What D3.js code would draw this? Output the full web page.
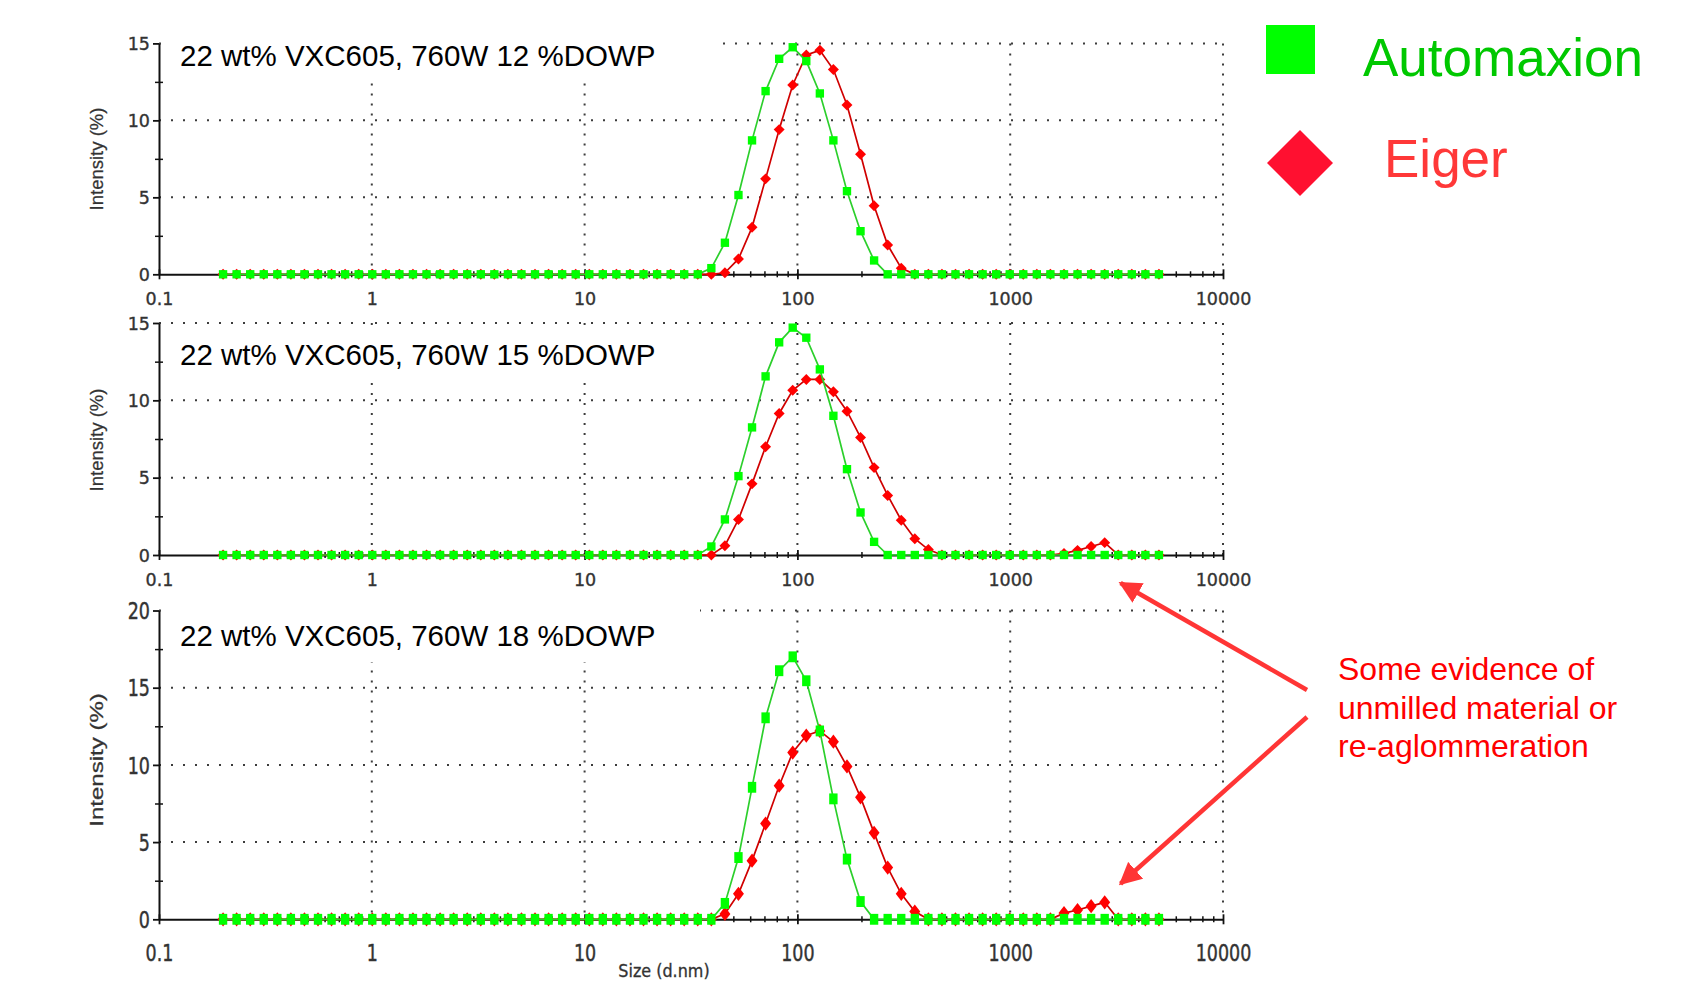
<!DOCTYPE html>
<html>
<head>
<meta charset="utf-8">
<script src="https://cdn.jsdelivr.net/npm/d3@7"></script>
<style>
  html, body { margin: 0; padding: 0; background: #fff; }
  svg { display: block; }
</style>
</head>
<body>
<svg id="chart" width="1700" height="982"></svg>
<script>
// ---------------- DATA ----------------
// size bins (d.nm), 70 log-spaced bins
const sizes = [0.2, 0.2316, 0.2683, 0.3107, 0.3598, 0.4166, 0.4825, 0.5587, 0.6470, 0.7493,
  0.8678, 1.005, 1.164, 1.348, 1.561, 1.808, 2.094, 2.424, 2.808, 3.252,
  3.766, 4.361, 5.050, 5.848, 6.772, 7.843, 9.083, 10.52, 12.18, 14.10,
  16.34, 18.92, 21.91, 25.37, 29.38, 34.03, 39.41, 45.64, 52.85, 61.21,
  70.88, 82.09, 95.06, 110.1, 127.5, 147.6, 171.0, 198.0, 229.3, 265.6,
  307.6, 356.2, 412.5, 477.7, 553.2, 640.6, 741.9, 859.2, 995.0, 1152,
  1334, 1545, 1790, 2072, 2400, 2780, 3219, 3728, 4318, 5000];

const seriesNames = ["Automaxion", "Eiger"];
const panelTitles = ["22 wt% VXC605, 760W 12 %DOWP", "22 wt% VXC605, 760W 15 %DOWP", "22 wt% VXC605, 760W 18 %DOWP"];

// Panel 1 (12 %DOWP)
const automaxion12 = [0,0,0,0,0,0,0,0,0,0, 0,0,0,0,0,0,0,0,0,0, 0,0,0,0,0,0,0,0,0,0, 0,0,0,0,0,0,
  0.4, 2.05, 5.15, 8.7, 11.9, 14.0, 14.75, 13.85, 11.75, 8.7, 5.4, 2.8, 0.9,
  0,0,0,0,0,0,0,0,0,0, 0,0,0,0,0,0,0,0,0,0, 0];
const eiger12 = [0,0,0,0,0,0,0,0,0,0, 0,0,0,0,0,0,0,0,0,0, 0,0,0,0,0,0,0,0,0,0, 0,0,0,0,0,0,0,
  0.1, 1.0, 3.05, 6.2, 9.4, 12.3, 14.25, 14.55, 13.3, 11.0, 7.8, 4.45, 1.9, 0.4,
  0,0,0,0,0,0,0,0,0,0, 0,0,0,0,0,0,0,0,0];

// Panel 2 (15 %DOWP)
const automaxion15 = [0,0,0,0,0,0,0,0,0,0, 0,0,0,0,0,0,0,0,0,0, 0,0,0,0,0,0,0,0,0,0, 0,0,0,0,0,0,
  0.55, 2.3, 5.1, 8.25, 11.55, 13.75, 14.7, 14.05, 12.0, 9.0, 5.55, 2.75, 0.85,
  0,0,0,0,0,0,0,0,0,0, 0,0,0,0,0,0,0,0,0,0, 0];
const eiger15 = [0,0,0,0,0,0,0,0,0,0, 0,0,0,0,0,0,0,0,0,0, 0,0,0,0,0,0,0,0,0,0, 0,0,0,0,0,0,0,
  0.6, 2.3, 4.6, 7.0, 9.15, 10.65, 11.35, 11.35, 10.55, 9.3, 7.6, 5.65, 3.85, 2.25, 1.05, 0.35,
  0,0,0,0,0,0,0,0,0,
  0.1, 0.3, 0.55, 0.8,
  0,0,0,0];

// Panel 3 (18 %DOWP)
const automaxion18 = [0,0,0,0,0,0,0,0,0,0, 0,0,0,0,0,0,0,0,0,0, 0,0,0,0,0,0,0,0,0,0, 0,0,0,0,0,0,0,
  1.03, 4.0, 8.55, 13.05, 16.1, 17.0, 15.45, 12.2, 7.8, 3.9, 1.15,
  0,0,0,0,0,0,0,0,0,0, 0,0,0,0,0,0,0,0,0,0, 0,0];
const eiger18 = [0,0,0,0,0,0,0,0,0,0, 0,0,0,0,0,0,0,0,0,0, 0,0,0,0,0,0,0,0,0,0, 0,0,0,0,0,0,0,
  0.35, 1.65, 3.8, 6.2, 8.65, 10.8, 11.9, 12.2, 11.5, 9.9, 7.9, 5.6, 3.35, 1.65, 0.5,
  0,0,0,0,0,0,0,0,0,0,
  0.4, 0.6, 0.85, 1.1,
  0,0,0,0];

const xTicks = [0.1, 1, 10, 100, 1000, 10000];
const xTickLabels = ["0.1", "1", "10", "100", "1000", "10000"];
const yTicks15 = [0, 5, 10, 15];
const yTicks20 = [0, 5, 10, 15, 20];
const yMinor15 = [2.5, 7.5, 12.5];
const yMinor20 = [2.5, 7.5, 12.5, 17.5];
const yAxisTitle = "Intensity (%)";
const xAxisTitle = "Size (d.nm)";
const annotationLines = ["Some evidence of", "unmilled material or", "re-aglommeration"];
const annotationTarget = 3300; // size the arrows point at

// ---------------- LAYOUT ----------------
const svg = d3.select("#chart");
const x = d3.scaleLog().domain([0.1, 10000]).range([159, 1223]);

const panels = [
  { title: panelTitles[0], a: automaxion12, e: eiger12, ticks: yTicks15, minor: yMinor15,
    top: 43.4, bottom: 274.3, box: [161, 26, 557, 55], titleY: 66, xlabOff: 24, ylabY: 159, sy: 1 },
  { title: panelTitles[1], a: automaxion15, e: eiger15, ticks: yTicks15, minor: yMinor15,
    top: 323, bottom: 555, box: [161, 329, 540, 52], titleY: 365, xlabOff: 25, ylabY: 440, sy: 1 },
  { title: panelTitles[2], a: automaxion18, e: eiger18, ticks: yTicks20, minor: yMinor20,
    top: 610.5, bottom: 919.3, box: [161, 602, 539, 60], titleY: 646, xlabOff: 34, ylabY: 760, sy: 1.3 }
];

const minorX = [];
[0.1, 1, 10, 100, 1000].forEach(d => { for (let m = 2; m <= 9; m++) minorX.push(d * m); });

const tickFont = "'DejaVu Sans', Verdana, sans-serif";
const arial = "'Liberation Sans', Arial, sans-serif";

const yScales = [];

panels.forEach((p, pi) => {
  const g = svg.append("g");
  const y = d3.scaleLinear().domain([0, p.ticks[p.ticks.length - 1]]).range([p.bottom, p.top]);
  yScales.push(y);

  // gridlines
  g.selectAll(null).data(p.ticks.filter(v => v > 0)).join("line")
    .attr("x1", x(0.1)).attr("x2", x(10000))
    .attr("y1", d => y(d)).attr("y2", d => y(d))
    .attr("stroke", "#3c3c3c").attr("stroke-width", 2).attr("stroke-dasharray", "2 10");
  g.selectAll(null).data(xTicks.slice(1)).join("line")
    .attr("x1", d => x(d)).attr("x2", d => x(d))
    .attr("y1", y.range()[1]).attr("y2", y(0))
    .attr("stroke", "#3c3c3c").attr("stroke-width", 2).attr("stroke-dasharray", "2 8");

  // title background + title
  g.append("rect").attr("x", p.box[0]).attr("y", p.box[1]).attr("width", p.box[2]).attr("height", p.box[3])
    .attr("fill", "#fff");
  g.append("text").attr("x", 180).attr("y", p.titleY).text(p.title)
    .attr("font-family", arial).attr("font-size", 29.5).attr("fill", "#000");

  // minor x ticks
  const mx = g.append("g").attr("transform", `translate(0,${p.bottom})`)
    .call(d3.axisBottom(x).tickValues(minorX).tickFormat("").tickSizeInner(3).tickSizeOuter(0));
  mx.select(".domain").remove();
  mx.selectAll(".tick line").attr("y1", -3).attr("y2", 3).attr("stroke", "#111").attr("stroke-width", 1.5);

  // x axis
  const xa = g.append("g").attr("transform", `translate(0,${p.bottom})`)
    .call(d3.axisBottom(x).tickValues(xTicks).tickFormat((d, i) => xTickLabels[i]).tickSizeInner(5).tickSizeOuter(0));
  xa.select(".domain").attr("stroke", "#111").attr("stroke-width", 2);
  xa.selectAll(".tick line").attr("y1", -5).attr("y2", 5).attr("stroke", "#111").attr("stroke-width", 1.8);
  xa.selectAll(".tick text").attr("y", null).attr("dy", "0.36em")
    .attr("transform", `translate(0,${p.xlabOff}) scale(1,${p.sy})`)
    .attr("font-family", tickFont).attr("font-size", 17.5).attr("fill", "#333")
    .attr("stroke", "#333").attr("stroke-width", 0.35);

  // minor y ticks
  const my = g.append("g").attr("transform", `translate(${x(0.1)},0)`)
    .call(d3.axisLeft(y).tickValues(p.minor).tickFormat("").tickSizeOuter(0));
  my.select(".domain").remove();
  my.selectAll(".tick line").attr("x1", -4).attr("x2", 4).attr("stroke", "#111").attr("stroke-width", 1.5);

  // y axis
  const ya = g.append("g").attr("transform", `translate(${x(0.1)},0)`)
    .call(d3.axisLeft(y).tickValues(p.ticks).tickSizeInner(6).tickSizeOuter(0));
  ya.select(".domain").attr("stroke", "#111").attr("stroke-width", 2);
  ya.selectAll(".tick line").attr("stroke", "#111").attr("stroke-width", 1.8);
  ya.selectAll(".tick text").attr("x", null).attr("dy", "0.36em")
    .attr("transform", `translate(-9,0) scale(1,${p.sy})`)
    .attr("font-family", tickFont).attr("font-size", 17.5).attr("fill", "#333")
    .attr("stroke", "#333").attr("stroke-width", 0.35);

  // y axis title
  g.append("text")
    .attr("transform", `translate(97,${p.ylabY}) scale(1,${p.sy}) rotate(-90)`)
    .attr("text-anchor", "middle").attr("dy", "0.35em")
    .attr("font-family", arial).attr("font-size", 18.5).attr("fill", "#333")
    .attr("stroke", "#333").attr("stroke-width", 0.25)
    .text(yAxisTitle);

  // data
  const line = d3.line().x((d, i) => x(sizes[i])).y(d => y(d));
  // Eiger (red)
  g.append("path").datum(p.e).attr("d", line)
    .attr("fill", "none").attr("stroke", "#d00000").attr("stroke-width", 1.7);
  g.selectAll(null).data(p.e).join("path")
    .attr("d", d3.symbol(d3.symbolSquare, 60)())
    .attr("transform", (d, i) => `translate(${x(sizes[i])},${y(d)}) scale(1,${p.sy}) rotate(45)`)
    .attr("fill", "#ff0000");
  // Automaxion (green)
  g.append("path").datum(p.a).attr("d", line)
    .attr("fill", "none").attr("stroke", "#2ccf2c").attr("stroke-width", 1.7);
  g.selectAll(null).data(p.a).join("path")
    .attr("d", d3.symbol(d3.symbolSquare, 70)())
    .attr("transform", (d, i) => `translate(${x(sizes[i])},${y(d)}) scale(1,${p.sy})`)
    .attr("fill", "#00ff00");
});

// x axis title (near the bottom edge, as in the reference)
svg.append("text")
  .attr("transform", `translate(664,977) scale(1,1.1)`)
  .attr("text-anchor", "middle")
  .attr("font-family", tickFont).attr("font-size", 16).attr("fill", "#333")
  .attr("stroke", "#333").attr("stroke-width", 0.3)
  .text(xAxisTitle);

// ---------------- LEGEND ----------------
const leg = svg.append("g");
leg.append("rect").attr("x", 1266).attr("y", 25).attr("width", 49).attr("height", 49).attr("fill", "#00ff00");
leg.append("text").attr("x", 1363).attr("y", 76).text(seriesNames[0])
  .attr("font-family", arial).attr("font-size", 53).attr("fill", "#00c800");
leg.append("path").attr("d", d3.symbol(d3.symbolSquare, 2178)())
  .attr("transform", "translate(1300,163) rotate(45)").attr("fill", "#ff1030");
leg.append("text").attr("x", 1384).attr("y", 177).text(seriesNames[1])
  .attr("font-family", arial).attr("font-size", 53).attr("fill", "#ff3838");

// ---------------- ANNOTATION ----------------
const ann = svg.append("g");
ann.selectAll(null).data(annotationLines).join("text")
  .attr("x", 1338).attr("y", (d, i) => 680 + i * 38.5)
  .attr("font-family", arial).attr("font-size", 32).attr("fill", "#ff0000")
  .text(d => d);

const defs = svg.append("defs");
defs.append("marker").attr("id", "ah").attr("viewBox", "0 0 10 10").attr("refX", 9).attr("refY", 5)
  .attr("markerWidth", 5).attr("markerHeight", 5).attr("orient", "auto-start-reverse")
  .attr("markerUnits", "strokeWidth")
  .append("path").attr("d", "M0,0 L10,5 L0,10 z").attr("fill", "#ff3535");

const arrows = [
  { from: [1307, 690], to: [x(annotationTarget), panels[1].bottom + 28] },
  { from: [1307, 717], to: [x(annotationTarget), yScales[2](2.3)] }
];
ann.selectAll(null).data(arrows).join("line")
  .attr("x1", d => d.from[0]).attr("y1", d => d.from[1])
  .attr("x2", d => d.to[0]).attr("y2", d => d.to[1])
  .attr("stroke", "#ff3535").attr("stroke-width", 4.5)
  .attr("marker-end", "url(#ah)");
</script>
</body>
</html>
